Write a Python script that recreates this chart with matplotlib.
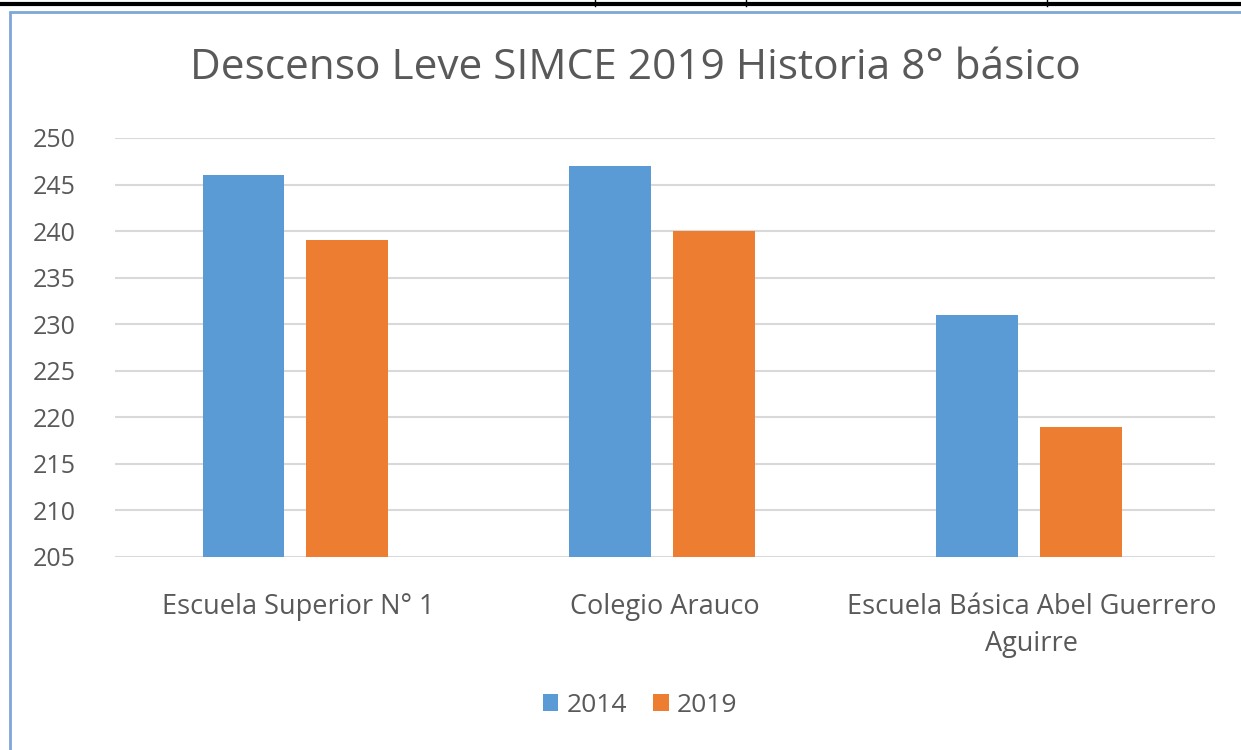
import numpy as np
import matplotlib
matplotlib.use('Agg')
import matplotlib.pyplot as plt
from matplotlib.patches import Rectangle
from matplotlib.lines import Line2D

# data
categories = ['Escuela Superior N° 1', 'Colegio Arauco', 'Escuela Básica Abel Guerrero\nAguirre']
series_names = ['2014', '2019']
vals_2014 = [246, 247, 231]
vals_2019 = [239, 240, 219]
yticks = [205, 210, 215, 220, 225, 230, 235, 240, 245, 250]

plt.rcParams['font.family'] = ['Open Sans', 'DejaVu Sans']
txt = '#595959'
cblue = '#5B9BD5'
corange = '#ED7D31'

f = plt.figure(figsize=(12.41, 7.5), dpi=100)
ax = f.add_axes([115/1241, 1-557/750, 1100/1241, 419/750])

x = np.arange(len(categories))
w = 0.223
gap = 0.06
ax.bar(x-(w+gap)/2-0.008, vals_2014, w, color=cblue, label=series_names[0], zorder=3)
ax.bar(x+(w+gap)/2-0.008, vals_2019, w, color=corange, label=series_names[1], zorder=3)

ax.set_ylim(205, 250)
ax.set_xlim(-0.5, 2.5)
ax.set_yticks(yticks)
ax.yaxis.grid(True, color='#D9D9D9', lw=1.5, zorder=0)
for s in ax.spines.values():
    s.set_visible(False)
ax.tick_params(axis='both', length=0, labelsize=18, colors=txt)
ax.tick_params(axis='y', pad=28)
ax.set_xticks(x)
ax.set_xticklabels(categories, linespacing=1.4, va='top', fontsize=19.5)
ax.tick_params(axis='x', pad=26)

f.text(635/1241, 1-68/750, 'Descenso Leve SIMCE 2019 Historia 8° básico', ha='center', va='center',
       fontsize=30.5, color=txt)

leg = f.legend(loc='center', bbox_to_anchor=(640/1241, 1-705/750), ncol=2, frameon=False,
               fontsize=19, handlelength=0.6, handleheight=0.6, handletextpad=0.3, columnspacing=1.0,
               labelcolor=txt)

# frame of the chart and the table edge above it
f.add_artist(Rectangle((10/1241, -0.01), 1.2, 1-12/750+0.01, transform=f.transFigure,
                       fill=False, edgecolor='#7EA6D8', lw=2))
f.add_artist(Line2D([0, 1], [1-4/750, 1-4/750], transform=f.transFigure, color='k', lw=3))
for xv in [595, 746, 1047]:
    f.add_artist(Line2D([xv/1241, xv/1241], [1-6/750, 1], transform=f.transFigure, color='k', lw=1))

f.savefig('out.png', dpi=100)
